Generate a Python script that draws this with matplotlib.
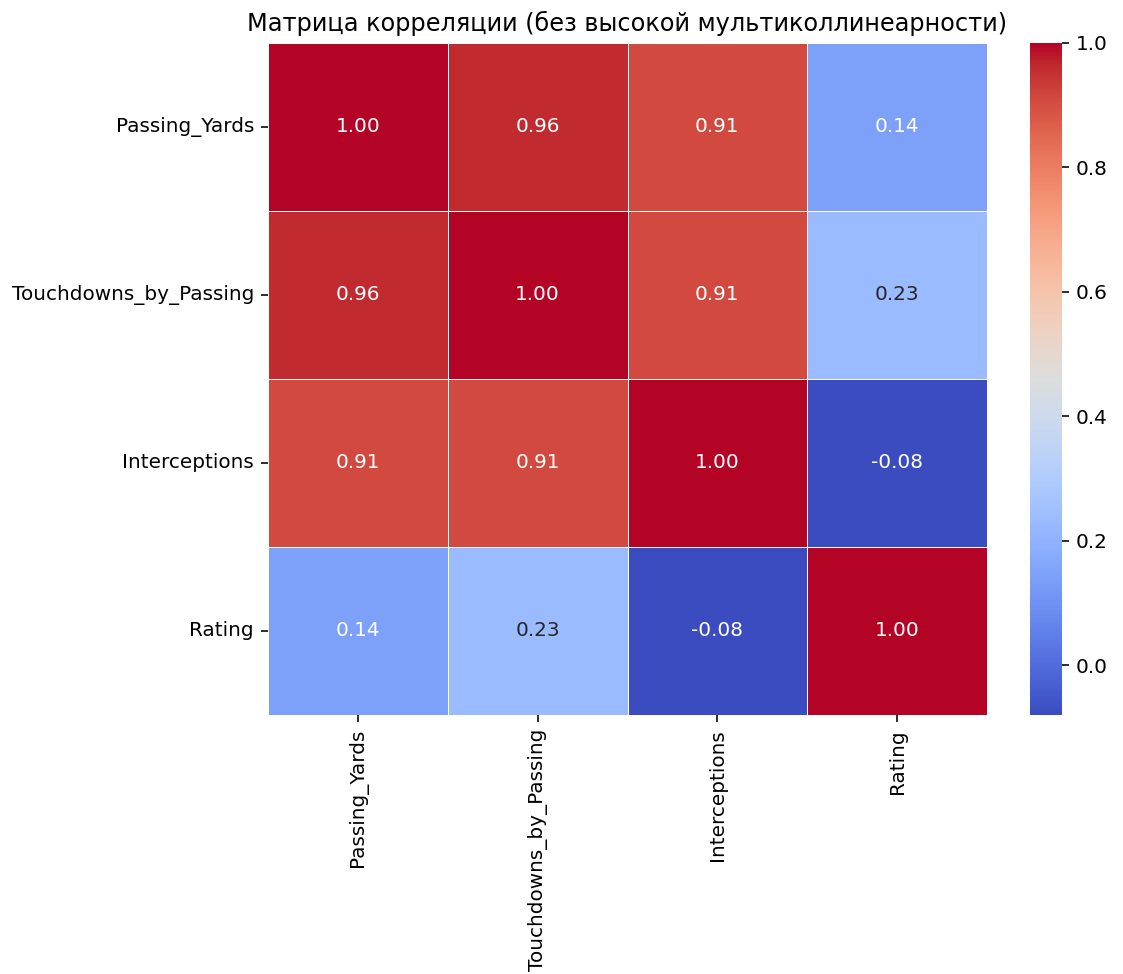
import numpy as np
import pandas as pd
import matplotlib
matplotlib.use('Agg')
import matplotlib.pyplot as plt
import seaborn as sns

labels = ['Passing_Yards', 'Touchdowns_by_Passing', 'Interceptions', 'Rating']
row_py = [1.00, 0.96, 0.91, 0.14]
row_td = [0.96, 1.00, 0.91, 0.23]
row_int = [0.91, 0.91, 1.00, -0.08]
row_rat = [0.14, 0.23, -0.08, 1.00]

corr = pd.DataFrame([row_py, row_td, row_int, row_rat], index=labels, columns=labels)

dpi = 144
fig = plt.figure(figsize=(1123 / dpi, 974 / dpi), dpi=dpi)
ax = fig.add_axes([268 / 1123, 1 - 715 / 974, (987 - 268) / 1123, (715 - 43) / 974])
cax = fig.add_axes([1030 / 1123, 1 - 715 / 974, 32 / 1123, (715 - 43) / 974])

sns.heatmap(corr, annot=True, fmt='.2f', cmap='coolwarm', linewidths=0.5,
            ax=ax, cbar_ax=cax)
ax.set_title('Матрица корреляции (без высокой мультиколлинеарности)')

fig.savefig('out.png', dpi=dpi)
